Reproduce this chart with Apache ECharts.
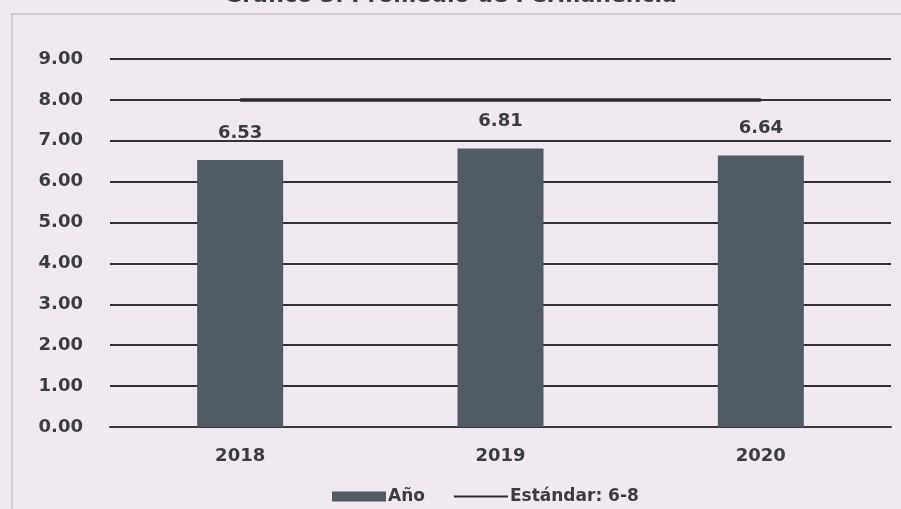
<!DOCTYPE html>
<html>
<head>
<meta charset="utf-8">
<script src="https://cdn.jsdelivr.net/npm/echarts@6/dist/echarts.min.js"></script>
<style>
  html, body { margin: 0; padding: 0; background: #f0e9f2; overflow: hidden; }
  #chart { width: 901px; height: 509px; }
</style>
</head>
<body>
<div id="chart"></div>
<script>
// values
const years = ["2018", "2019", "2020"];
const promedio = [6.53, 6.81, 6.64];
const estandar = [8, 8, 8];
const yTicks = { min: 0, max: 9, interval: 1 };

const FONT = "DejaVu Sans";
const INK = "#3b3c42";

const chart = echarts.init(document.getElementById("chart"));
chart.setOption({
  backgroundColor: "#f0e9f2",
  // the scan cuts the title off, only its lower edge shows
  title: {
    text: "Gráfico 3. Promedio de Permanencia",
    left: "center",
    top: -20,
    textStyle: { fontFamily: FONT, fontSize: 22, fontWeight: "bold", color: INK },
  },
  // left and top edge of the scanned frame
  graphic: [
    {
      type: "polyline",
      shape: { points: [[12, 520], [12, 14], [901, 14]] },
      style: { fill: null, stroke: "#c7c1cb", lineWidth: 1.5 },
    },
  ],
  grid: { left: 110, right: 10, top: 59, bottom: 82 },
  legend: {
    bottom: -1,
    left: 327,
    itemGap: 28,
    itemWidth: 54,
    itemHeight: 10,
    textStyle: { fontFamily: FONT, fontSize: 17, fontWeight: "bold", color: INK, padding: [0, 0, 0, -3] },
    data: [
      { name: "Año", icon: "rect" },
      { name: "Estándar: 6-8", itemStyle: { opacity: 0 } },
    ],
  },
  xAxis: {
    type: "category",
    data: years,
    axisTick: { show: false },
    axisLine: { lineStyle: { color: "#38383d", width: 2 } },
    axisLabel: {
      margin: 20,
      fontFamily: FONT,
      fontSize: 18,
      fontWeight: "bold",
      color: INK,
    },
  },
  yAxis: {
    type: "value",
    min: yTicks.min,
    max: yTicks.max,
    interval: yTicks.interval,
    axisLine: { show: false },
    axisTick: { show: false },
    axisLabel: {
      margin: 27,
      formatter: (v) => v.toFixed(2),
      fontFamily: FONT,
      fontSize: 18,
      fontWeight: "bold",
      color: INK,
    },
    splitLine: { lineStyle: { color: "#313136", width: 2 } },
  },
  series: [
    {
      name: "Año",
      type: "bar",
      data: promedio,
      barWidth: 86,
      itemStyle: { color: "#515b64" },
      label: {
        show: true,
        position: "top",
        distance: 18,
        formatter: (p) => p.value.toFixed(2),
        fontFamily: FONT,
        fontSize: 18,
        fontWeight: "bold",
        color: INK,
      },
    },
    {
      name: "Estándar: 6-8",
      type: "line",
      data: estandar,
      symbol: "none",
      lineStyle: { color: "#2a2a2e", width: 3.5 },
      itemStyle: { color: "#2a2a2e" },
      z: 3,
    },
  ],
});
</script>
</body>
</html>
